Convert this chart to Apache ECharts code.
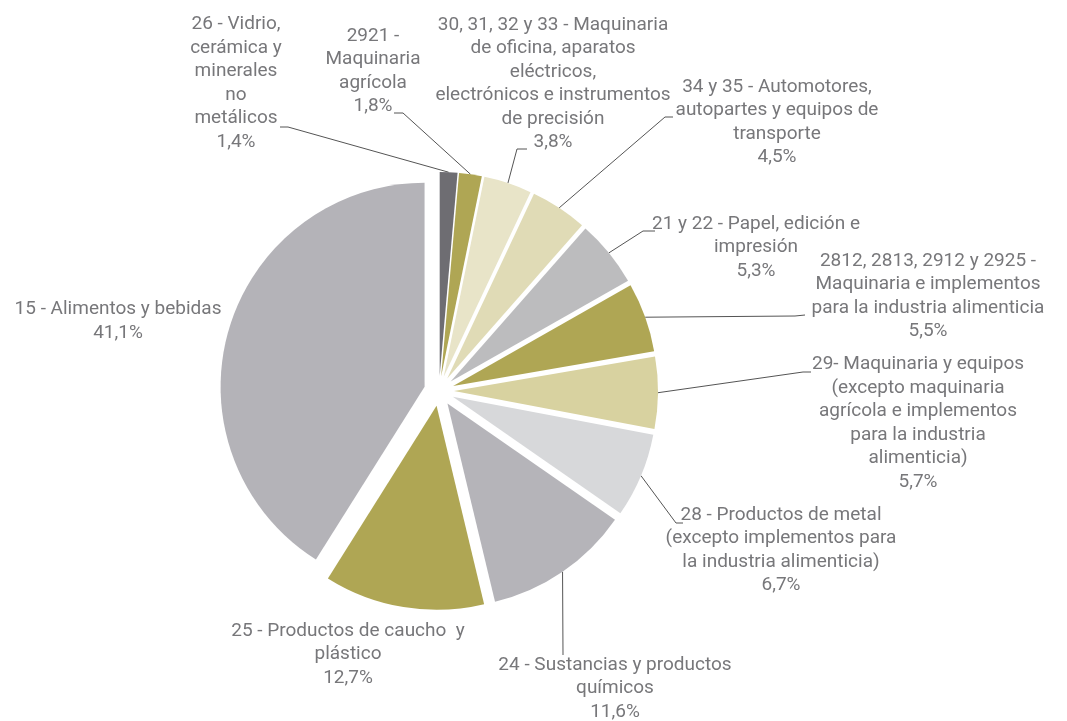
<!DOCTYPE html>
<html>
<head>
<meta charset="utf-8">
<script src="https://cdn.jsdelivr.net/npm/echarts@6/dist/echarts.min.js"></script>
<style>
  html, body { margin: 0; padding: 0; background: #fff; }
  #chart { width: 1067px; height: 721px; }
</style>
</head>
<body>
<div id="chart"></div>
<script>
// sectors, clockwise from 12 o'clock
const categories = [
    "26 - Vidrio, cerámica y minerales no metálicos",
    "2921 - Maquinaria agrícola",
    "30, 31, 32 y 33 - Maquinaria de oficina, aparatos eléctricos, electrónicos e instrumentos de precisión",
    "34 y 35 - Automotores, autopartes y equipos de transporte",
    "21 y 22 - Papel, edición e impresión",
    "2812, 2813, 2912 y 2925 - Maquinaria e implementos para la industria alimenticia",
    "29- Maquinaria y equipos (excepto maquinaria agrícola e implementos para la industria alimenticia)",
    "28 - Productos de metal (excepto implementos para la industria alimenticia)",
    "24 - Sustancias y productos químicos",
    "25 - Productos de caucho  y plástico",
    "15 - Alimentos y bebidas"
]
const values = [1.4, 1.8, 3.8, 4.5, 5.3, 5.5, 5.7, 6.7, 11.6, 12.7, 41.1]

// label text as broken in the picture
const labelNames = [
    "26 - Vidrio,\ncerámica y\nminerales\nno\nmetálicos",
    "2921 -\nMaquinaria\nagrícola",
    "30, 31, 32 y 33 - Maquinaria\nde oficina, aparatos\neléctricos,\nelectrónicos e instrumentos\nde precisión",
    "34 y 35 - Automotores,\nautopartes y equipos de\ntransporte",
    "21 y 22 - Papel, edición e\nimpresión",
    "2812, 2813, 2912 y 2925 -\nMaquinaria e implementos\npara la industria alimenticia",
    "29- Maquinaria y equipos\n(excepto maquinaria\nagrícola e implementos\npara la industria\nalimenticia)",
    "28 - Productos de metal\n(excepto implementos para\nla industria alimenticia)",
    "24 - Sustancias y productos\nquímicos",
    "25 - Productos de caucho  y\nplástico",
    "15 - Alimentos y bebidas"
]

const colors = ["#6e6d72", "#afa654", "#e8e4c8", "#e0dbb6", "#bcbcbe", "#afa654",
                "#d8d2a0", "#d7d8da", "#b5b4b9", "#afa654", "#b4b3b8"]

// label block: center x, top y
const labelAnchors = [[236, 12.5], [373, 24], [553, 13], [777, 75], [756, 212], [928, 249],
                      [918, 352.5], [781, 503], [615, 653], [348, 619], [118, 297.5]]
// leader line points after the slice edge (null = no line)
const leaderElbows = [
    [[288, 127], [280, 127]],
    [[403, 113], [394, 113]],
    [[517, 149], [527, 149]],
    [[665, 117], [673, 117]],
    [[643, 231], [655, 231]],
    [[795, 316], [805, 315]],
    [[803, 372], [811, 372]],
    [[676, 523], [683, 523]],
    [[563, 655]],
    null,
    null
]

const CX = 439, CY = 391, R = 204, EXPLODE = 15
const TEXT = "#77777a"
const FONT = "Roboto, 'Liberation Sans', sans-serif"

const pct = v => String(v).replace(".", ",") + "%"

function init() {
    const myChart = echarts.init(document.getElementById("chart"))
    const total = values.reduce((a, b) => a + b, 0)
    let cum = 0

    // one pie per slice so every slice can be pulled out along its own mid angle
    const series = values.map((v, i) => {
        const mid = (cum + v / 2) / total * Math.PI * 2
        cum += v
        const cx = CX + EXPLODE * Math.sin(mid)
        const cy = CY - EXPLODE * Math.cos(mid)
        const edge = [cx + R * Math.sin(mid), cy - R * Math.cos(mid)]
        return {
            type: "pie",
            center: [cx, cy],
            radius: R,
            startAngle: 90,
            clockwise: true,
            silent: true,
            avoidLabelOverlap: false,
            data: values.map((w, j) => ({
                value: w,
                name: categories[j],
                itemStyle: { color: j === i ? colors[i] : "rgba(0,0,0,0)" },
                label: { show: j === i },
                labelLine: { show: j === i && leaderElbows[i] != null }
            })),
            label: {
                formatter: labelNames[i] + "\n" + pct(v),
                color: TEXT,
                fontFamily: FONT,
                fontSize: 19,
                lineHeight: 23.5
            },
            labelLine: { lineStyle: { color: "#555555", width: 1 } },
            labelLayout: p => {
                if (p.dataIndex !== i) return {}
                const out = {
                    x: labelAnchors[i][0],
                    y: labelAnchors[i][1],
                    align: "center",
                    verticalAlign: "top"
                }
                if (leaderElbows[i]) out.labelLinePoints = [edge].concat(leaderElbows[i])
                return out
            }
        }
    })

    myChart.setOption({
        animation: false,
        backgroundColor: "#fff",
        series: series
    })
}

init()
</script>
</body>
</html>
